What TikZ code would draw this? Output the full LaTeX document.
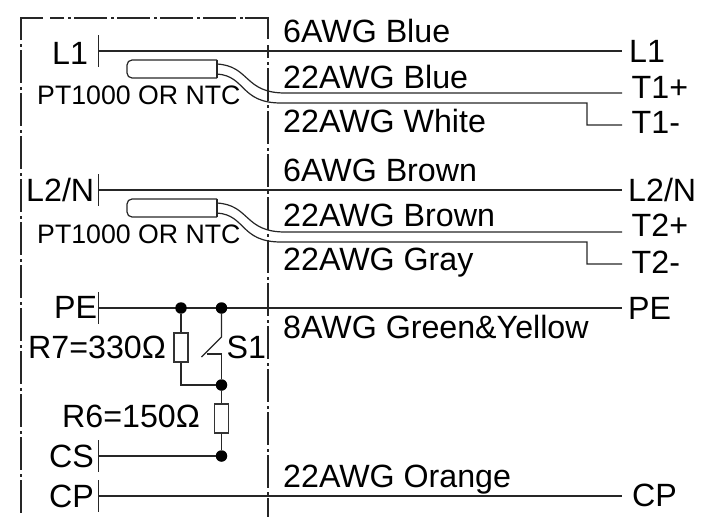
\documentclass[tikz,border=0pt]{standalone}
\usepackage{fontspec}
\setmainfont{Liberation Sans}
\tikzset{
  wire/.style={line width=1.2pt,black!85},
  frameline/.style={line width=1.2pt,black!85},
  framedash/.style={frameline,dash pattern=on 33pt off 4pt on 2.5pt off 3.5pt},
  part/.style={draw=black!80,line width=1.2pt,fill=white,minimum width=14pt,minimum height=29pt,inner sep=0pt},
  sensor/.style={line width=1.2pt,black!85,rounded corners=5pt},
  junction/.style={circle,fill=black,minimum size=11.5pt,inner sep=0pt},
  lab/.style={anchor=base west,inner sep=0pt,font=\fontsize{32.2pt}{33pt}\selectfont},
  small/.style={anchor=base west,inner sep=0pt,font=\fontsize{26.7pt}{27pt}\selectfont},
}
\begin{document}
\begin{tikzpicture}[x=1pt,y=-1pt]
\useasboundingbox (0,0) rectangle (716,517);
% frame
\coordinate (ftl) at (21,18);
\coordinate (ftr) at (268,18);
\coordinate (fl1) at (21,40);
\coordinate (fl2) at (21,517);
\coordinate (ft1) at (43,18);
\coordinate (ft2) at (50,18);
\coordinate (ft3) at (245,18);
\coordinate (fr1) at (268,39);
\coordinate (fr2) at (268,45);
\coordinate (fr3) at (268,517);
\draw[frameline] (fl1) -- (ftl) -- (ft1);
\draw[frameline] (ft3) -- (ftr) -- (fr1);
\draw[framedash,dash phase=33pt] (fl1) -- (fl2);
\draw[framedash,dash phase=19pt] (ft2) -- (ft3);
\draw[framedash,dash phase=20pt] (fr2) -- (fr3);
% terminals
\foreach \n/\y in {a/51,b/190,c/308,d/456,e/496}{
  \coordinate (t\n) at (98.5,\y);
  \coordinate (tu\n) at (98.5,\y-16);
  \coordinate (td\n) at (98.5,\y+16);
  \coordinate (r\n) at (622,\y);
  \draw[wire] (tu\n) -- (td\n);
}
\draw[wire] (ta) -- (ra);
\draw[wire] (tb) -- (rb);
\draw[wire] (tc) -- (rc);
\draw[wire] (te) -- (re);
% sensors
\foreach \n/\o in {1/0,2/139}{
  \coordinate (sw\n) at (217,60+\o);
  \coordinate (se\n) at (217,78+\o);
  \coordinate (sa\n) at (217,64+\o);
  \coordinate (sb\n) at (217,74+\o);
  \coordinate (pa\n) at (622,93+\o);
  \coordinate (pb\n) at (587,103+\o);
  \coordinate (pc\n) at (587,125+\o);
  \coordinate (pd\n) at (622,125+\o);
  \draw[sensor] (sw\n) -- (127,60+\o) -- (127,78+\o) -- (se\n);
  \draw[wire] (sw\n) -- (se\n);
  \draw[wire] (sa\n) .. controls (250,66+\o) and (244,93+\o) .. (285,93+\o) -- (pa\n);
  \draw[wire] (sb\n) .. controls (246,76+\o) and (240,103+\o) .. (281,103+\o) -- (pb\n) -- (pc\n) -- (pd\n);
}
% PE network
\node[junction] (j1) at (181,308) {};
\node[junction] (j2) at (221.5,308) {};
\node[junction] (j3) at (221.5,385) {};
\node[junction] (j4) at (221.5,456) {};
\node[part] (R7) at (181,347.5) {};
\node[part] (R6) at (221.5,418.5) {};
\draw[wire] (j1) -- (R7.north);
\draw[wire] (R7.south) |- (j3);
\coordinate (sw1) at (221.5,337);
\coordinate (sw2) at (201.5,357);
\coordinate (sw3) at (206.5,354);
\coordinate (sw4) at (221.5,354);
\draw[wire] (j2) -- (sw1) -- (sw2);
\draw[wire] (sw3) -- (sw4) -- (j3);
\draw[wire] (j3) -- (R6.north);
\draw[wire] (R6.south) -- (j4);
\draw[wire] (td) -- (j4);
% left labels
\node[lab] (lL1) at (52,64) {L1};
\node[lab] (lL2) at (26,201) {L2/N};
\node[lab] (lPE) at (54,318) {PE};
\node[lab] (lR7) at (28,358) {R7=330Ω};
\node[lab] (lS1) at (226.5,358) {S1};
\node[lab] (lR6) at (62,427) {R6=150Ω};
\node[lab] (lCS) at (49,467) {CS};
\node[lab] (lCP) at (49,507) {CP};
\node[small] (lP1) at (37,104) {PT1000 OR NTC};
\node[small] (lP2) at (37,243) {PT1000 OR NTC};
% wire labels
\node[lab] (w1) at (283,42) {6AWG Blue};
\node[lab] (w2) at (283,88) {22AWG Blue};
\node[lab] (w3) at (283,132) {22AWG White};
\node[lab] (w4) at (283,181) {6AWG Brown};
\node[lab] (w5) at (283,226) {22AWG Brown};
\node[lab] (w6) at (283,270) {22AWG Gray};
\node[lab] (w7) at (283,338) {8AWG Green\&Yellow};
\node[lab] (w8) at (283,487) {22AWG Orange};
% right labels
\node[lab] (x1) at (629,62) {L1};
\node[lab] (x2) at (631.5,98) {T1+};
\node[lab] (x3) at (631.5,133) {T1-};
\node[lab] (x4) at (628,201) {L2/N};
\node[lab] (x5) at (631.5,236) {T2+};
\node[lab] (x6) at (631.5,273) {T2-};
\node[lab] (x7) at (628,319) {PE};
\node[lab] (x8) at (632,506) {CP};
\end{tikzpicture}
\end{document}
